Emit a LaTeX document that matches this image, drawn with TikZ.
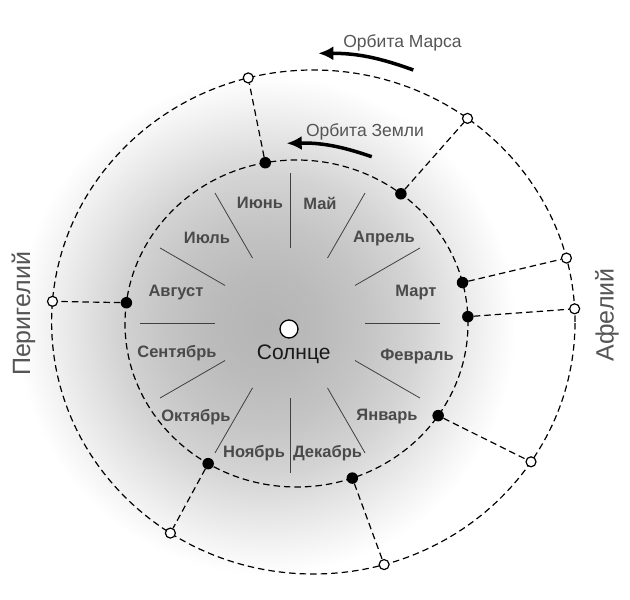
\documentclass[tikz,border=0pt]{standalone}
\usepackage{fontspec}
\setmainfont{Liberation Sans}
\usetikzlibrary{calc}
\usetikzlibrary{arrows.meta}
\definecolor{monthGray}{HTML}{4A4A4A}
\definecolor{labelGray}{HTML}{555555}
\definecolor{glowA}{rgb}{0.71,0.71,0.71}
\definecolor{glowB}{rgb}{0.73,0.73,0.73}
\definecolor{glowC}{rgb}{0.77,0.77,0.77}
\definecolor{glowD}{rgb}{0.83,0.83,0.83}
\definecolor{glowE}{rgb}{0.90,0.90,0.90}
\definecolor{glowF}{rgb}{0.96,0.96,0.96}
\definecolor{glowG}{rgb}{1,1,1}
\pgfdeclareradialshading{glow}{\pgfpoint{0bp}{0bp}}{%
  color(0bp)=(glowA); color(5bp)=(glowB); color(10bp)=(glowC);
  color(15bp)=(glowD); color(19bp)=(glowE); color(22.5bp)=(glowF);
  color(25bp)=(glowG); color(50bp)=(glowG)}
\tikzset{
  orbit/.style = {color=#1, line width=1.2pt, dash pattern=on 6.5pt off 4pt},
  earth/.style = {circle, fill=black, inner sep=0pt, minimum size=11.5pt},
  mars/.style = {circle, draw=black, fill=white, line width=1.2pt, inner sep=0pt, minimum size=10pt},
  sun/.style = {circle, draw=black, fill=white, line width=1.3pt, inner sep=0pt, minimum size=18pt},
  spoke/.style = {color=#1, line width=0.8pt},
  motion/.style = {color=#1, line width=3.5pt, -{Latex[length=15pt,width=14pt]}},
  month/.style = {color=monthGray, inner sep=0pt, font=\bfseries\fontsize{16.5}{18}\selectfont},
  orbitLabel/.style = {color=labelGray, inner sep=0pt, font=\fontsize{17.5}{20}\selectfont},
  sideLabel/.style = {color=labelGray, inner sep=0pt, rotate=90, font=\fontsize{25}{28}\selectfont}
}

\begin{document}
\begin{tikzpicture}[x=1pt, y=1pt]

    % Frame
    \useasboundingbox (0,0) rectangle (630,600);

    % Coordinates
    \coordinate (O) at (290,277);
    \coordinate (EO) at (296.5,276.5);
    \coordinate (MO) at (313.3,278);
    \coordinate (G) at (266,275);

    % Background
    \shade[shading=glow] (G) circle (250);

    % Orbits
    \draw[orbit={black}] (EO) ellipse (171.5 and 163.5);
    \draw[orbit={black}] (MO) ellipse (261.7 and 252);

    % Month spokes
    \draw[spoke={black!75}] ($(O)+(0:75)$) -- ($(O)+(0:150)$);
    \draw[spoke={black!75}] ($(O)+(30:75)$) -- ($(O)+(30:150)$);
    \draw[spoke={black!75}] ($(O)+(60:75)$) -- ($(O)+(60:150)$);
    \draw[spoke={black!75}] ($(O)+(90:75)$) -- ($(O)+(90:150)$);
    \draw[spoke={black!75}] ($(O)+(120:75)$) -- ($(O)+(120:150)$);
    \draw[spoke={black!75}] ($(O)+(150:75)$) -- ($(O)+(150:150)$);
    \draw[spoke={black!75}] ($(O)+(180:75)$) -- ($(O)+(180:150)$);
    \draw[spoke={black!75}] ($(O)+(210:75)$) -- ($(O)+(210:150)$);
    \draw[spoke={black!75}] ($(O)+(240:75)$) -- ($(O)+(240:150)$);
    \draw[spoke={black!75}] ($(O)+(270:75)$) -- ($(O)+(270:150)$);
    \draw[spoke={black!75}] ($(O)+(300:75)$) -- ($(O)+(300:150)$);
    \draw[spoke={black!75}] ($(O)+(330:75)$) -- ($(O)+(330:150)$);

    % Month labels
    \node[month] (jun) at (260,396.7) {Июнь};
    \node[month] (may) at (320,396.7) {Май};
    \node[month] (jul) at (207,362) {Июль};
    \node[month] (apr) at (384,361) {Апрель};
    \node[month] (aug) at (176,307) {Август};
    \node[month] (mar) at (416,307) {Март};
    \node[month] (sep) at (177,246.7) {Сентябрь};
    \node[month] (feb) at (417,243.7) {Февраль};
    \node[month] (oct) at (196,183.3) {Октябрь};
    \node[month] (jan) at (387,183.3) {Январь};
    \node[month] (nov) at (254,146.7) {Ноябрь};
    \node[month] (dec) at (327.5,146.7) {Декабрь};

    % Sun
    \node[sun] (sun) at (289,271) {};
    \node[inner sep=0pt, font=\fontsize{21}{24}\selectfont, text=black!90] (sunText) at (293.7,245.5) {Солнце};

    % Earth positions
    \node[earth] (E1) at ($(EO)+(100.5:171.5 and 163.5)$) {};
    \node[earth] (E2) at ($(EO)+(52.5:171.5 and 163.5)$) {};
    \node[earth] (E3) at ($(EO)+(14.5:171.5 and 163.5)$) {};
    \node[earth] (E4) at ($(EO)+(2.4:171.5 and 163.5)$) {};
    \node[earth] (E5) at ($(EO)+(-34.3:171.5 and 163.5)$) {};
    \node[earth] (E6) at ($(EO)+(-71:171.5 and 163.5)$) {};
    \node[earth] (E7) at ($(EO)+(-121:171.5 and 163.5)$) {};
    \node[earth] (E8) at ($(EO)+(172.7:171.5 and 163.5)$) {};

    % Mars positions
    \node[mars] (M1) at ($(MO)+(104.4:261.7 and 252)$) {};
    \node[mars] (M2) at ($(MO)+(53.9:261.7 and 252)$) {};
    \node[mars] (M3) at ($(MO)+(14.7:261.7 and 252)$) {};
    \node[mars] (M4) at ($(MO)+(3:261.7 and 252)$) {};
    \node[mars] (M5) at ($(MO)+(-33.7:261.7 and 252)$) {};
    \node[mars] (M6) at ($(MO)+(-74.3:261.7 and 252)$) {};
    \node[mars] (M7) at ($(MO)+(-123.1:261.7 and 252)$) {};
    \node[mars] (M8) at ($(MO)+(175.3:261.7 and 252)$) {};

    % Sight lines
    \draw[orbit={black}] (E1) -- (M1);
    \draw[orbit={black}] (E2) -- (M2);
    \draw[orbit={black}] (E3) -- (M3);
    \draw[orbit={black}] (E4) -- (M4);
    \draw[orbit={black}] (E5) -- (M5);
    \draw[orbit={black}] (E6) -- (M6);
    \draw[orbit={black}] (E7) -- (M7);
    \draw[orbit={black}] (E8) -- (M8);

    % Direction of motion
    \coordinate (marsTail) at (413.3,530);
    \coordinate (marsHead) at (318.3,546.7);
    \coordinate (earthTail) at (371.7,443.3);
    \coordinate (earthHead) at (286.7,456.7);
    \draw[motion={black}] (marsTail) to[bend right=10] (marsHead);
    \draw[motion={black}] (earthTail) to[bend right=10] (earthHead);
    \node[orbitLabel] (marsText) at (402.5,557.5) {Орбита Марса};
    \node[orbitLabel] (earthText) at (365,468) {Орбита Земли};

    % Perihelion and aphelion
    \node[sideLabel] (peri) at (23.5,286) {Перигелий};
    \node[sideLabel] (aph) at (607,285) {Афелий};

\end{tikzpicture}
\end{document}
